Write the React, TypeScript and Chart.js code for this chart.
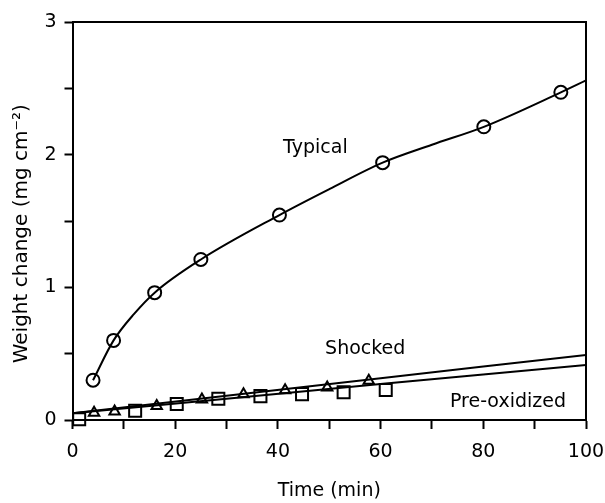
import React, { useEffect, useRef } from "react";
import { Chart, registerables } from "chart.js";

Chart.register(...registerables);

// Typical specimen – measured points (circles)
const typicalTime = [4, 8, 16, 25, 40.3, 60.4, 80.1, 95.1];
const typicalGain = [0.3, 0.6, 0.96, 1.21, 1.545, 1.94, 2.21, 2.47];
// Typical – fitted curve
const typicalFitTime = [4, 8, 12, 16, 25, 40.3, 50, 60.4, 70, 80.1, 95.1, 100];
const typicalFitGain = [0.3, 0.6, 0.8, 0.96, 1.21, 1.545, 1.74, 1.94, 2.075, 2.21, 2.47, 2.56];

// Shocked specimen – triangles
const shockedTime = [4.2, 8.2, 16.4, 25.2, 33.3, 41.4, 49.6, 57.7];
const shockedGain = [0.055, 0.065, 0.105, 0.155, 0.195, 0.225, 0.245, 0.295];
const shockedFitTime = [0, 60, 100];
const shockedFitGain = [0.05, 0.315, 0.49];

// Pre-oxidized specimen – squares
const preoxTime = [1.3, 12.2, 20.3, 28.4, 36.6, 44.7, 52.8, 61];
const preoxGain = [0.005, 0.07, 0.12, 0.16, 0.18, 0.195, 0.21, 0.226];
const preoxFitTime = [0, 61, 100];
const preoxFitGain = [0.05, 0.275, 0.415];

// Curve labels
const labelTexts = ["Typical", "Shocked", "Pre-oxidized"];
const labelTime = [47.3, 57.0, 84.8];
const labelGain = [2.05, 0.535, 0.138];

const xTicks = [0, 20, 40, 60, 80, 100];
const yTicks = [0, 1, 2, 3];

const FONT = "'DejaVu Sans', sans-serif";

const pts = (xs: number[], ys: number[]) => xs.map((x, i) => ({ x, y: ys[i] }));

export default function App() {
  const ref = useRef<HTMLCanvasElement>(null);

  useEffect(() => {
    const canvas = ref.current;
    if (!canvas) return;

    const labelPlugin = {
      id: "curveLabels",
      afterDatasetsDraw(chart: any) {
        const { ctx, scales } = chart;
        ctx.save();
        ctx.font = `19px ${FONT}`;
        ctx.fillStyle = "#000";
        ctx.textAlign = "center";
        ctx.textBaseline = "middle";
        labelTexts.forEach((t, i) => {
          ctx.fillText(t, scales.x.getPixelForValue(labelTime[i]), scales.y.getPixelForValue(labelGain[i]));
        });
        ctx.restore();
      },
    };

    const framePlugin = {
      id: "frame",
      afterDraw(chart: any) {
        const { ctx, chartArea: a } = chart;
        ctx.save();
        ctx.strokeStyle = "#000";
        ctx.lineWidth = 2;
        ctx.beginPath();
        ctx.moveTo(a.left, a.top);
        ctx.lineTo(a.right, a.top);
        ctx.lineTo(a.right, a.bottom);
        ctx.stroke();
        ctx.restore();
      },
    };

    const lineDs = (data: any[], extra: any = {}) => ({
      data,
      showLine: true,
      borderColor: "#000",
      borderWidth: 2,
      pointRadius: 0,
      fill: false,
      ...extra,
    });

    const markerDs = (data: any[], style: string, radius: number) => ({
      data,
      showLine: false,
      pointStyle: style,
      pointRadius: radius,
      pointBorderWidth: 2,
      pointBorderColor: "#000",
      pointBackgroundColor: "rgba(0,0,0,0)",
      clip: false,
    });

    const noPad = (s: any) => {
      s.paddingLeft = 0;
      s.paddingRight = 0;
      s.paddingTop = 0;
      s.paddingBottom = 0;
    };

    const chart = new Chart(canvas, {
      type: "scatter",
      data: {
        datasets: [
          lineDs(pts(typicalFitTime, typicalFitGain), { cubicInterpolationMode: "monotone" }),
          lineDs(pts(shockedFitTime, shockedFitGain), { tension: 0.3 }),
          lineDs(pts(preoxFitTime, preoxFitGain), { tension: 0.3 }),
          markerDs(pts(typicalTime, typicalGain), "circle", 6.5),
          markerDs(pts(shockedTime, shockedGain), "triangle", 6),
          markerDs(pts(preoxTime, preoxGain), "rect", 8.5),
        ] as any,
      },
      options: {
        animation: false,
        responsive: false,
        devicePixelRatio: 1,
        layout: { padding: { top: 22, right: 19, left: 0, bottom: 0 } },
        plugins: {
          legend: { display: false },
          tooltip: { enabled: false },
        },
        scales: {
          x: {
            type: "linear",
            min: 0,
            max: 100,
            afterFit: (s: any) => {
              s.height = 83;
              noPad(s);
            },
            ticks: {
              stepSize: 10,
              autoSkip: false,
              maxRotation: 0,
              color: "#000",
              font: { family: FONT, size: 19 },
              padding: 12,
              callback: (v: any) => (xTicks.includes(Number(v)) ? String(v) : ""),
            },
            grid: {
              drawOnChartArea: false,
              drawTicks: true,
              tickLength: 9,
              tickWidth: 2,
              tickColor: "#000",
              color: "#000",
            },
            border: { color: "#000", width: 2 },
            title: {
              display: true,
              text: "Time (min)",
              color: "#000",
              font: { family: FONT, size: 19 },
              padding: { top: 0, bottom: 1 },
            },
          },
          y: {
            type: "linear",
            min: 0,
            max: 3,
            afterFit: (s: any) => {
              s.width = 72.5;
              noPad(s);
            },
            ticks: {
              stepSize: 0.5,
              autoSkip: false,
              color: "#000",
              font: { family: FONT, size: 19 },
              padding: 8,
              callback: (v: any) => (yTicks.includes(Number(v)) ? String(v) : ""),
            },
            grid: {
              drawOnChartArea: false,
              drawTicks: true,
              tickLength: 8,
              tickWidth: 2,
              tickColor: "#000",
              color: "#000",
            },
            border: { color: "#000", width: 2 },
            title: {
              display: true,
              text: "Weight change (mg cm⁻²)    ",
              color: "#000",
              font: { family: FONT, size: 20 },
              padding: { top: 10, bottom: 0 },
            },
          },
        },
      } as any,
      plugins: [labelPlugin, framePlugin],
    });

    return () => chart.destroy();
  }, []);

  return (
    <div style={{ position: "absolute", left: 0, top: 0, width: 605, height: 503, background: "#fff" }}>
      <canvas ref={ref} width={605} height={503} style={{ display: "block", width: 605, height: 503 }} />
    </div>
  );
}
